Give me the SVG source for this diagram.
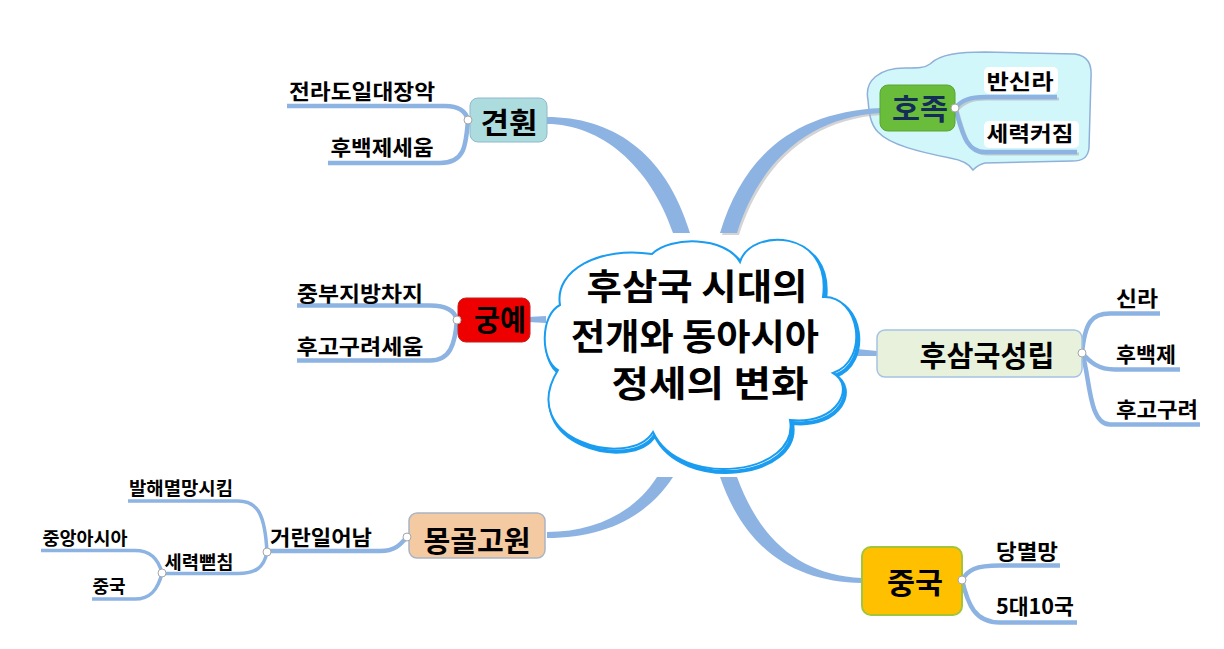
<svg xmlns="http://www.w3.org/2000/svg" width="1224" height="649" viewBox="0 0 1224 649">
<defs>
<style>
text{font-family:"Noto Sans CJK KR","Noto Sans",sans-serif;font-weight:bold;fill:#000;text-anchor:middle}
.br{fill:none;stroke:#8db3e2;stroke-width:4.5;stroke-linecap:butt}
.br3{fill:none;stroke:#8db3e2;stroke-width:3.5}
.band{fill:#8db3e2}
.jn{fill:#fff;stroke:#a6a6a6;stroke-width:1}
.t20{font-size:21px}
.t17{font-size:18px}
.t28{font-size:29px}
.tc{font-size:36px}
</style>
<path id="cloud" d="M560,305 C554,270 600,246 652,254 C670,236 725,236 740,262 C750,228 832,228 823,297 C860,295 870,360 833,373 C855,385 840,425 790,420 C800,475 680,490 653,432 C630,470 515,440 558,370 C540,360 540,315 560,305 Z"/>
</defs>
<rect width="1224" height="649" fill="#fff"/>

<g id="hojok-callout">
<path d="M868,100 C864,80 880,68 905,68 C918,68 925,68 930,64 C940,54 960,52 985,52 L1075,54 C1088,56 1092,64 1091,78 L1089,148 C1088,158 1082,161 1072,161 L985,163 C980,164 976,167 973,170 C970,165 962,160 950,158 C920,152 890,145 878,132 C870,124 869,112 868,100 Z" fill="#d2f7fb" stroke="#8fb0d8" stroke-width="1.5"/>
</g>

<g id="connectors">
<path class="band" d="M547,117 C610,117 665,150 690,233 L673,233 C650,165 600,124 547,124 Z"/>
<path d="M722,235 C747,152 802,114 882,110 L882,115 C812,119 762,162 739,235 Z" fill="#b8b8b8" opacity="0.6"/>
<path class="band" d="M720,233 C745,150 800,112 881,108 L881,113 C810,117 760,160 737,233 Z"/>
<path class="band" d="M528,317 L546,316 L546,323 L528,322 Z"/>
<path class="band" d="M857,349 L877,351 L877,356 L857,356 Z"/>
<path class="band" d="M657,477 L673,477 C645,520 600,538 547,538 L547,532 C595,532 635,512 657,477 Z"/>
<path class="band" d="M720,477 L737,477 C760,540 800,575 862,578 L862,583 C795,582 745,550 720,477 Z"/>

<path class="br" d="M468,120 C466,112 460,106 445,106 L287,106"/>
<path class="br" d="M468,120 C466,145 465,163 440,163 L328,163"/>
<path class="br" d="M457,320 C455,312 448,305.5 430,305.5 L297,305.5"/>
<path class="br" d="M457,320 C455,345 450,360.5 430,360.5 L297,360.5"/>
<path d="M957,110 C964,102 972,99 987,99 L1059,99" fill="none" stroke="#b0b0b0" stroke-width="3" opacity="0.6"/>
<path d="M957,110 C964,132 967,154 987,154 L1079,154" fill="none" stroke="#b0b0b0" stroke-width="3" opacity="0.6"/>
<path class="br" d="M955,108 C962,100 970,97 985,97 L1057,97"/>
<path class="br" d="M955,108 C962,130 965,152 985,152 L1077,152"/>
<path class="br" d="M1082,353 C1085,322 1092,313.5 1110,313.5 L1160,313.5"/>
<path class="br" d="M1082,353 C1090,362 1098,369.5 1115,369.5 L1180,369.5"/>
<path class="br" d="M1082,353 C1090,375 1088,424.5 1110,424.5 L1200,424.5"/>
<path class="br" d="M962,580 C968,570 975,565.5 1000,565.5 L1060,565.5"/>
<path class="br" d="M962,580 C968,605 975,622.5 1000,622.5 L1077,622.5"/>
<path class="br" d="M407,537 C400,545 395,551 380,551 L267,551"/>
<path class="br3" d="M267,552 C265,515 258,501 238,501 L128,501"/>
<path class="br3" d="M267,552 C264,568 255,573.5 238,573.5 L162,573.5"/>
<path class="br3" d="M162,573 C158,558 150,550.5 135,550.5 L41,550.5"/>
<path class="br3" d="M162,573 C158,590 150,599 135,599 L92,599"/>
</g>

<g id="center">
<use href="#cloud" transform="translate(2,3)" fill="none" stroke="#1a9cf0" stroke-width="4"/>
<use href="#cloud" fill="#fff" stroke="#1a9cf0" stroke-width="2"/>
<text class="tc"><tspan x="697" y="300" textLength="221" lengthAdjust="spacingAndGlyphs">후삼국 시대의</tspan><tspan x="695" y="350" textLength="248" lengthAdjust="spacingAndGlyphs">전개와 동아시아</tspan><tspan x="710" y="397" textLength="197" lengthAdjust="spacingAndGlyphs">정세의 변화</tspan></text>
</g>

<g id="gyeonhwon">
<rect x="470" y="98" width="77" height="44" rx="8" fill="#addcde" stroke="#8fb8cf"/>
<text class="t28" x="509" y="134" textLength="57" lengthAdjust="spacingAndGlyphs">견훤</text>
<circle class="jn" cx="468" cy="120" r="4"/>
</g>
<g id="gyeonhwon-1"><text class="t20" x="362" y="99" textLength="146" lengthAdjust="spacingAndGlyphs">전라도일대장악</text></g>
<g id="gyeonhwon-2"><text class="t20" x="382" y="155" textLength="103" lengthAdjust="spacingAndGlyphs">후백제세움</text></g>

<g id="gungye">
<rect x="458" y="298" width="72" height="44" rx="8" fill="#ee0000" stroke="#c02020"/>
<text class="t28" x="500" y="331" textLength="52" lengthAdjust="spacingAndGlyphs">궁예</text>
<circle class="jn" cx="457" cy="320" r="4"/>
</g>
<g id="gungye-1"><text class="t20" x="360" y="301" textLength="126" lengthAdjust="spacingAndGlyphs">중부지방차지</text></g>
<g id="gungye-2"><text class="t20" x="360" y="354" textLength="127" lengthAdjust="spacingAndGlyphs">후고구려세움</text></g>

<g id="hojok">
<rect x="880" y="85" width="75" height="46" rx="8" fill="#69bd3a" stroke="#5aa534"/>
<text class="t28" x="920" y="120" textLength="56" lengthAdjust="spacingAndGlyphs" style="fill:#132c58">호족</text>
<circle class="jn" cx="955" cy="108" r="4"/>
</g>
<g id="hojok-1"><rect x="984" y="67" width="74" height="27" rx="5" fill="#fff"/><text class="t20" x="1020" y="89" textLength="67" lengthAdjust="spacingAndGlyphs">반신라</text></g>
<g id="hojok-2"><rect x="984" y="121" width="95" height="27" rx="5" fill="#fff"/><text class="t20" x="1030" y="141" textLength="87" lengthAdjust="spacingAndGlyphs">세력커짐</text></g>

<g id="husamguk">
<rect x="877" y="330" width="205" height="47" rx="8" fill="#e8f1dc" stroke="#a4c2e4" stroke-width="1.5"/>
<text class="t28" x="987" y="367" textLength="135" lengthAdjust="spacingAndGlyphs">후삼국성립</text>
<circle class="jn" cx="1082" cy="353" r="4"/>
</g>
<g id="silla"><text class="t20" x="1137" y="306" textLength="42" lengthAdjust="spacingAndGlyphs">신라</text></g>
<g id="hubaekje"><text class="t20" x="1146" y="362" textLength="60" lengthAdjust="spacingAndGlyphs">후백제</text></g>
<g id="hugoguryeo"><text class="t20" x="1157" y="417" textLength="82" lengthAdjust="spacingAndGlyphs">후고구려</text></g>

<g id="monggol">
<rect x="409" y="513" width="136" height="45" rx="8" fill="#f3caa2" stroke="#a9b4c4" stroke-width="1.5"/>
<text class="t28" x="477" y="552" textLength="107" lengthAdjust="spacingAndGlyphs">몽골고원</text>
<circle class="jn" cx="407" cy="537" r="4"/>
</g>
<g id="georan"><text class="t20" x="321" y="545" textLength="102" lengthAdjust="spacingAndGlyphs">거란일어남</text><circle class="jn" cx="267" cy="552" r="4"/></g>
<g id="balhae"><text class="t17" x="181" y="495" textLength="104" lengthAdjust="spacingAndGlyphs">발해멸망시킴</text></g>
<g id="seryeok"><text class="t17" x="199" y="569" textLength="69" lengthAdjust="spacingAndGlyphs">세력뻗침</text><circle class="jn" cx="162" cy="573" r="4"/></g>
<g id="jungang"><text class="t17" x="85" y="545" textLength="85" lengthAdjust="spacingAndGlyphs">중앙아시아</text></g>
<g id="jungguk-small"><text class="t17" x="109" y="593" textLength="33" lengthAdjust="spacingAndGlyphs">중국</text></g>

<g id="jungguk">
<rect x="862" y="547" width="100" height="68" rx="9" fill="#ffc000" stroke="#a4c43a" stroke-width="2"/>
<text class="t28" x="915" y="594" textLength="56" lengthAdjust="spacingAndGlyphs">중국</text>
<circle class="jn" cx="962" cy="580" r="4"/>
</g>
<g id="dang"><text class="t20" x="1027" y="559" textLength="62" lengthAdjust="spacingAndGlyphs">당멸망</text></g>
<g id="five"><text class="t20" x="1035" y="614" textLength="78" lengthAdjust="spacingAndGlyphs">5대10국</text></g>
</svg>
